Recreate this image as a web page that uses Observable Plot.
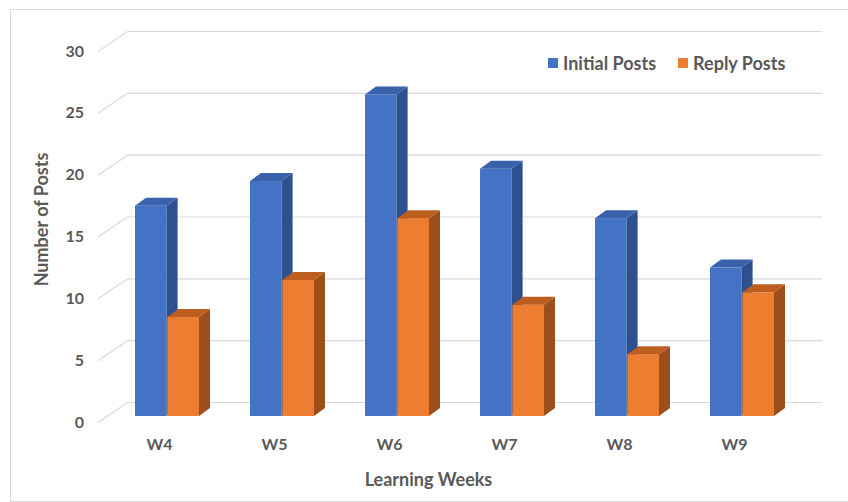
<!DOCTYPE html>
<html>
<head>
<meta charset="utf-8">
<script src="https://cdn.jsdelivr.net/npm/d3@7"></script>
<script src="https://cdn.jsdelivr.net/npm/@observablehq/plot@0.6"></script>
<style>
  body { margin: 0; background: #fff; }
  #chart { position: relative; width: 848px; height: 502px; overflow: hidden; font-family: Lato, "Open Sans", sans-serif; }
  #frame { position: absolute; left: 10px; top: 9px; width: 860px; height: 491px; border: 1px solid #d9d9d9; pointer-events: none; }
  #legend { position: absolute; left: 548px; top: 52px; display: flex; gap: 22px; font: bold 18px Lato, sans-serif; color: #595959; line-height: 22px; }
  #legend span { display: inline-flex; align-items: center; }
  #legend i { display: inline-block; width: 10px; height: 10px; margin-right: 5px; }
</style>
</head>
<body>
<div id="chart"></div>
<script>
// Posts per learning week
const weeks = ["W4", "W5", "W6", "W7", "W8", "W9"];
const seriesNames = ["Initial Posts", "Reply Posts"];
const initialPosts = [17, 19, 26, 20, 16, 12];
const replyPosts = [8, 11, 16, 9, 5, 10];
const yTicks = [0, 5, 10, 15, 20, 25, 30];

const palette = {
  "Initial Posts": {front: "#4472C4", side: "#2E508E", top: "#3A62AC"},
  "Reply Posts": {front: "#ED7D31", side: "#9C4F1B", top: "#BD5E20"}
};

const initialRows = weeks.map((week, i) => ({week, series: seriesNames[0], value: initialPosts[i]}));
const replyRows = weeks.map((week, i) => ({week, series: seriesNames[1], value: replyPosts[i]}));

// depth of each bar (pixels right / up)
const DEPTH_X = 11, DEPTH_Y = 8;
const svgNS = "http://www.w3.org/2000/svg";

// Adds a side and a top face to every bar rect drawn by Plot
function extrude(colors) {
  return (index, scales, values, dimensions, context, next) => {
    const g = next(index, scales, values, dimensions, context);
    for (const r of Array.from(g.querySelectorAll("rect"))) {
      const x = +r.getAttribute("x"), y = +r.getAttribute("y");
      const w = +r.getAttribute("width"), h = +r.getAttribute("height");
      const side = document.createElementNS(svgNS, "path");
      side.setAttribute("d", `M${x + w},${y + h}L${x + w + DEPTH_X},${y + h - DEPTH_Y}L${x + w + DEPTH_X},${y - DEPTH_Y}L${x + w},${y}Z`);
      side.setAttribute("fill", colors.side);
      const top = document.createElementNS(svgNS, "path");
      top.setAttribute("d", `M${x},${y}L${x + DEPTH_X},${y - DEPTH_Y}L${x + w + DEPTH_X},${y - DEPTH_Y}L${x + w},${y}Z`);
      top.setAttribute("fill", colors.top);
      r.after(side, top);
    }
    return g;
  };
}

// Back-wall gridlines with the slanted segment running to the floor's front edge
function wallGrid(index, scales, values, dimensions, context, next) {
  const g = next(index, scales, values, dimensions, context);
  for (const l of Array.from(g.querySelectorAll("line"))) {
    const x1 = +l.getAttribute("x1"), y1 = +l.getAttribute("y1");
    const d = document.createElementNS(svgNS, "line");
    d.setAttribute("x1", x1 - 29.5);
    d.setAttribute("y1", y1 + 20);
    d.setAttribute("x2", x1);
    d.setAttribute("y2", y1);
    l.after(d);
  }
  return g;
}

const textColor = "#595959";

const chart = Plot.plot({
  width: 848,
  height: 502,
  marginTop: 45,
  marginBottom: 86,
  marginLeft: 107.5,
  marginRight: 45.5,
  style: {fontFamily: "Lato, 'Open Sans', sans-serif", fontSize: "16px", fontWeight: "bold", color: textColor, background: "transparent"},
  x: {domain: weeks, paddingInner: 0.44, paddingOuter: 0.22, axis: null},
  y: {domain: [0, 30], axis: null},
  marks: [
    Plot.ruleY(yTicks, {dx: 20, dy: -14, stroke: "#d9d9d9", strokeWidth: 1.2, render: wallGrid}),
    Plot.axisY(yTicks, {tickSize: 0, tickPadding: 24, dy: 6, label: null, fill: textColor, fontWeight: "bold"}),
    Plot.axisX({tickSize: 0, tickPadding: 22, dx: -8, label: null, fill: textColor, fontWeight: "bold"}),
    Plot.barY(initialRows, {x: "week", y: "value", fill: palette["Initial Posts"].front, insetRight: 32.4, render: extrude(palette["Initial Posts"])}),
    Plot.barY(replyRows, {x: "week", y: "value", fill: palette["Reply Posts"].front, insetLeft: 32.4, render: extrude(palette["Reply Posts"])}),
    Plot.text(["Learning Weeks"], {frameAnchor: "bottom", dx: -27, dy: 69, fill: textColor, fontWeight: "bold", fontSize: 18}),
    Plot.text(["Number of Posts"], {frameAnchor: "left", textAnchor: "middle", rotate: -90, dx: -65.5, dy: -11.5, fill: textColor, fontWeight: "bold", fontSize: 18})
  ]
});

const root = document.getElementById("chart");
root.append(chart);

const frame = document.createElement("div");
frame.id = "frame";
root.append(frame);

const legend = document.createElement("div");
legend.id = "legend";
for (const name of seriesNames) {
  const item = document.createElement("span");
  const sw = document.createElement("i");
  sw.style.background = palette[name].front;
  item.append(sw, document.createTextNode(name));
  legend.append(item);
}
root.append(legend);
</script>
</body>
</html>
